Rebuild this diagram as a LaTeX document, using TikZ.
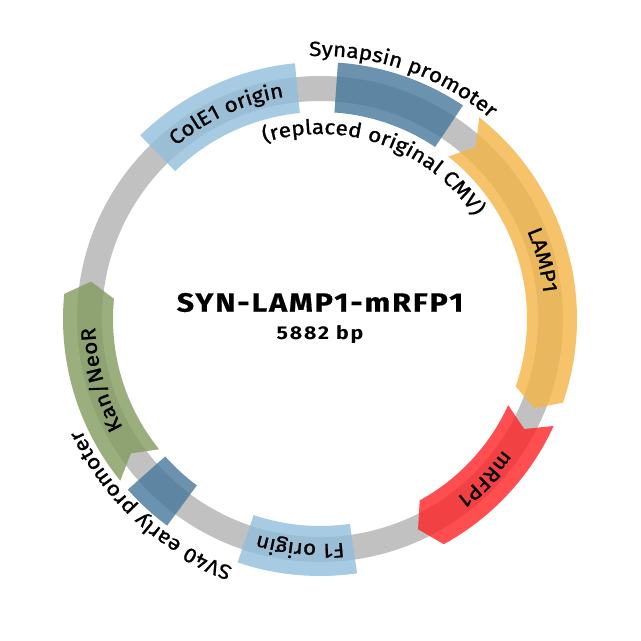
\documentclass[tikz,border=0pt]{standalone}
\usepackage{fontspec}
\setmainfont{Fira Sans}
\newfontfamily\titlefont[LetterSpace=7,FakeStretch=1.15,FakeBold=0.4]{Fira Sans}
\newfontfamily\sizefont[LetterSpace=10,FakeStretch=1.15]{Fira Sans}
\newfontfamily\labfont[LetterSpace=3,FakeStretch=1.1,FakeBold=1.0]{Fira Sans}
\usetikzlibrary{decorations.text}
\definecolor{ringgray}{RGB}{193,193,193}
\definecolor{oriblue}{RGB}{145,190,219}
\definecolor{promblue}{RGB}{70,119,154}
\definecolor{lampor}{RGB}{244,181,70}
\definecolor{rfpred}{RGB}{255,34,36}
\definecolor{kangreen}{RGB}{131,155,94}
\newcommand\featbox[3]{\fill[#1,featfill] (#2:257pt) arc[start angle=#2,end angle=#3,radius=257pt] -- (#3:207pt) arc[start angle=#3,end angle=#2,radius=207pt] -- cycle;}
\newcommand\featarrow[5]{\fill[#1,featfill] (#2:257pt) arc[start angle=#2,end angle=#3,radius=257pt] -- (#5:232pt) -- (#3:207pt) arc[start angle=#3,end angle=#2,radius=207pt] -- (#4:232pt) -- cycle;}
\newcommand\arclabel[4]{\path[decorate,decoration={text along path,text align=center,text={|\labfont\fontsize{20.5}{24}\selectfont|#4}}] ({#1+75}:#2) arc[start angle={#1+75},end angle={#1-75},radius=#2];}
\begin{document}
\begin{tikzpicture}[x=1pt,y=1pt,featfill/.style={fill opacity=0.8}]
\useasboundingbox (-320,-322) rectangle (321,319);
\fill[white] (-320,-322) rectangle (321,319);
\draw[ringgray,line width=25pt] (0,0) circle[radius=230.5pt];
% features
\featbox{oriblue}{134.4}{95.6}
\featbox{promblue}{86}{56.2}
\featarrow{lampor}{51.7}{-19}{47.9}{-22.6}
\featarrow{rfpred}{-24.6}{-61.2}{-28.3}{-65}
\featbox{oriblue}{-81.7}{-108.7}
\featbox{promblue}{-126.5}{-138.4}
\featarrow{kangreen}{219}{174.4}{215.4}{170.7}
% feature labels
\arclabel{114.5}{225pt}{}{ColE1 origin}
\arclabel{14.8}{225pt}{}{LAMP1}
\arclabel{-44}{225pt}{}{mRFP1}
\arclabel{-95}{225pt}{}{F1 origin}
\arclabel{195.5}{225pt}{}{Kan/NeoR}
% outside / inside labels
\arclabel{71}{263pt}{}{Synapsin promoter}
\arclabel{70.5}{185pt}{}{(replaced original CMV)}
\arclabel{-132.3}{263pt}{}{SV40 early promoter}
% title
\node[font=\titlefont\bfseries\fontsize{26.5}{31}\selectfont,anchor=base,inner sep=0pt] (title) at (0,7.3) {SYN-LAMP1-mRFP1};
\node[font=\sizefont\bfseries\fontsize{18.5}{22}\selectfont,anchor=base,inner sep=0pt] (size) at (0,-20.3) {5882 bp};
\end{tikzpicture}
\end{document}
